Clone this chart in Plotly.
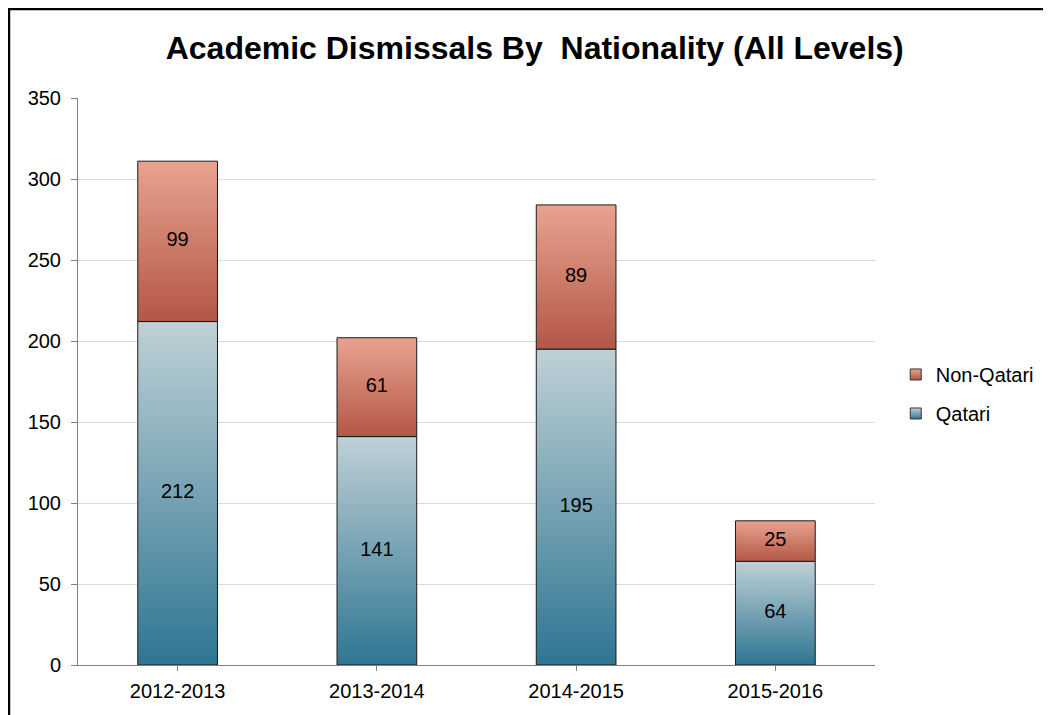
import plotly.graph_objects as go

years = ["2012-2013", "2013-2014", "2014-2015", "2015-2016"]
qatari = [212, 141, 195, 64]
non_qatari = [99, 61, 89, 25]

FONT = "Arial, Liberation Sans, sans-serif"
BAR_W = 0.4

series = [
    # name, values, bottom colour, top colour
    ("Qatari", qatari, "#2e7592", "#bfd1d6"),
    ("Non-Qatari", non_qatari, "#b35747", "#e9a38f"),
]

fig = go.Figure()

base = [0] * len(years)
for name, vals, c_bot, c_top in series:
    for i, v in enumerate(vals):
        b = base[i]
        # one filled polygon per segment so the gradient spans that segment only
        fig.add_trace(go.Scatter(
            x=[i - BAR_W / 2, i + BAR_W / 2, i + BAR_W / 2, i - BAR_W / 2, i - BAR_W / 2],
            y=[b, b, b + v, b + v, b],
            mode="lines",
            fill="toself",
            fillgradient=dict(type="vertical", colorscale=[[0, c_bot], [1, c_top]]),
            line=dict(color="#1a1a1a", width=1),
            showlegend=False,
            hoverinfo="skip",
        ))
    # value labels in the middle of each segment
    fig.add_trace(go.Scatter(
        x=list(range(len(years))),
        y=[base[i] + v / 2 for i, v in enumerate(vals)],
        mode="text",
        text=[str(v) for v in vals],
        textfont=dict(family=FONT, size=20, color="#000"),
        showlegend=False,
        hoverinfo="skip",
    ))
    base = [base[i] + v for i, v in enumerate(vals)]

# legend entries (small gradient squares)
for rank, (name, vals, c_bot, c_top) in zip([2, 1], series):
    fig.add_trace(go.Scatter(
        x=[None], y=[None],
        mode="markers",
        name=name,
        legendgroup=name,
        legendrank=rank,
        marker=dict(symbol="square", size=11, color=c_top,
                    gradient=dict(type="vertical", color=c_bot),
                    line=dict(color="#333", width=1)),
    ))

# the page body adds an 8px offset, so the figure is 8px smaller and shifted
fig.update_layout(
    width=1043, height=707,
    paper_bgcolor="white", plot_bgcolor="white",
    margin=dict(l=70, r=176, t=90, b=50, autoexpand=False),
    title=dict(
        text="<b>Academic Dismissals By  Nationality (All Levels)</b>",
        x=0.505, xref="container", xanchor="center",
        y=0.943, yref="container", yanchor="middle",
        font=dict(family=FONT, size=32, color="#000"),
    ),
    font=dict(family=FONT, size=20, color="#000"),
    legend=dict(
        x=1.026, xanchor="left", y=0.478, yanchor="middle",
        font=dict(family=FONT, size=20, color="#000"),
        tracegroupgap=10, bgcolor="rgba(0,0,0,0)",
    ),
    xaxis=dict(
        range=[-0.5, 3.5],
        tickvals=list(range(len(years))), ticktext=years,
        showgrid=False, zeroline=False,
        showline=True, linecolor="#808080", linewidth=1,
        ticks="outside", ticklen=5, tickcolor="#808080",
        ticklabelstandoff=3,
        tickfont=dict(family=FONT, size=20),
    ),
    yaxis=dict(
        range=[0, 350], dtick=50,
        showgrid=True, gridcolor="#d9d9d9", gridwidth=1,
        zeroline=False,
        showline=True, linecolor="#808080", linewidth=1,
        ticks="outside", ticklen=6, tickcolor="#808080",
        ticklabelstandoff=6,
        tickfont=dict(family=FONT, size=20),
    ),
    shapes=[dict(
        type="rect", xref="paper", yref="paper",
        x0=-0.0866, x1=1.25, y0=-0.15, y1=1.1570,
        line=dict(color="#000", width=2.5), fillcolor="rgba(0,0,0,0)",
        layer="below",
    )],
)

fig.write_html("out.html")
